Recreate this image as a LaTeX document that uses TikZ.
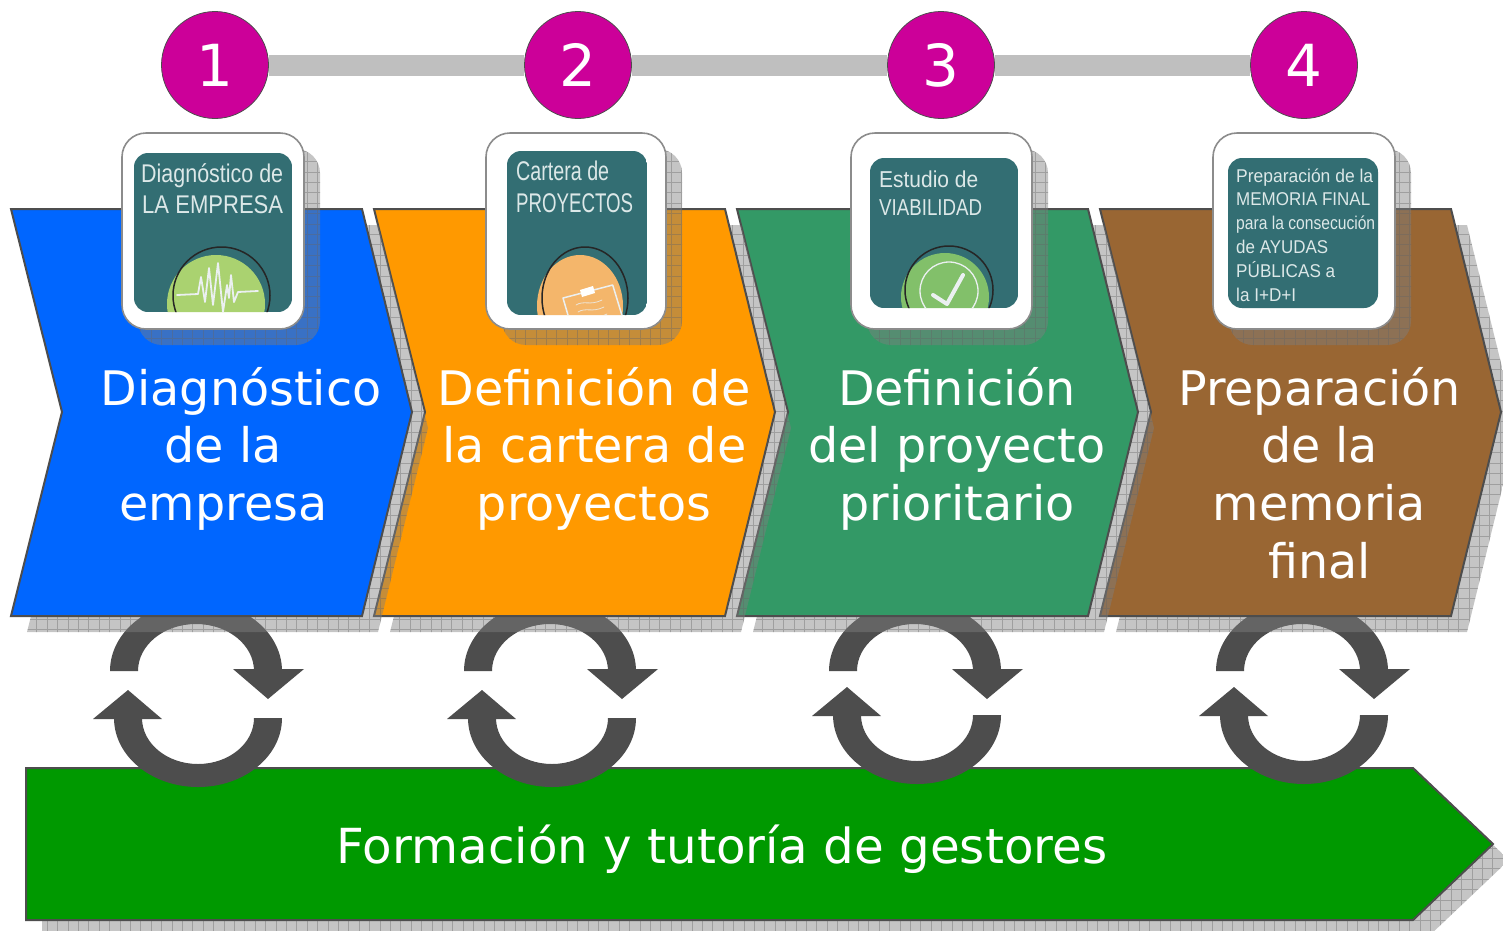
\documentclass[tikz,border=0pt]{standalone}
\usepackage{fontspec}
\usepackage{graphicx}
\setmainfont{DejaVu Sans}
\newfontfamily\arialf{Liberation Sans}
\usetikzlibrary{backgrounds}
\definecolor{cblue}{HTML}{0066FF}
\definecolor{corange}{HTML}{FF9900}
\definecolor{cgreen}{HTML}{339966}
\definecolor{cbrown}{HTML}{996633}
\definecolor{cbar}{HTML}{009900}
\definecolor{cline}{HTML}{4D4D4D}
\definecolor{cmag}{HTML}{CC0099}
\definecolor{cteal}{HTML}{336E73}
\definecolor{cimgtext}{HTML}{DCE8E8}
\definecolor{cpulse}{HTML}{AAD270}
\definecolor{cclip}{HTML}{F4B66B}
\definecolor{ccheck}{HTML}{82C06A}
\tikzset{
  chevron/.style={draw=cline,line width=2pt,line join=miter},
  shadowfill/.style={fill=black!50,fill opacity=.45},
  shadowgrid/.style={draw=black!60,draw opacity=.4,line width=.8pt,step=10.4},
  card/.style={draw=black!45,line width=1.6pt,fill=white,rounded corners=24pt},
  teal/.style={fill=cteal,rounded corners=14pt},
  cycarrow/.style={fill=cline},
  rail/.style={draw=black!25,line width=21pt},
  step circle/.style={circle,draw=cline,line width=.8pt,fill=cmag,text=white,minimum size=107pt,inner sep=0pt,font=\fontsize{58}{58}\selectfont},
  big/.style={anchor=base,text=white,inner sep=0pt,font=\fontsize{47.6}{58}\selectfont},
  imgt/.style={anchor=base west,text=cimgtext,inner sep=0pt},
  ring/.style={draw=black!85,line width=1.5pt},
  whiteline/.style={draw=white!90!cteal,line cap=round,line join=round},
}
% shadow: clip to the path given, offset 16,16, hatched with a grid
\newcommand\shadowof[2][]{%
  \begin{scope}[shift={(16,16)}]
    \begin{scope}
      \clip[#1] #2;
      \fill[shadowfill] (-20,-20) rectangle (1503,930);
      \draw[shadowgrid,y=1pt] (-20.8,-950) grid (1503,20.8);
    \end{scope}
  \end{scope}}
\newcommand\chev[2]{% x offset, colour
  \begin{scope}[shift={(#1,0)}]
    \shadowof{(11,209) -- (362,209) -- (412,412) -- (362,616) -- (11,616) -- (62,412) -- cycle}
    \path[chevron,fill=#2] (11,209) -- (362,209) -- (412,412) -- (362,616) -- (11,616) -- (62,412) -- cycle;
  \end{scope}}
\newcommand\cyc[2]{% x offset, bottom y offset
  \begin{scope}[shift={(#1,0)}]
    \fill[cycarrow] (110,671) arc[start angle=180,end angle=360,x radius=86,y radius=70]
       -- (254,671) arc[start angle=0,end angle=-180,x radius=58,y radius=47] -- cycle;
    \fill[cycarrow] (233,669) -- (304,669) -- (268,699) -- cycle;
    \begin{scope}[shift={(0,#2)}]
      \fill[cycarrow] (114,718) arc[start angle=180,end angle=0,x radius=84,y radius=69]
         -- (254,718) arc[start angle=0,end angle=180,x radius=56,y radius=46] -- cycle;
      \fill[cycarrow] (93,719) -- (162,719) -- (128,690) -- cycle;
    \end{scope}
  \end{scope}}
\newcommand\imgline[6]{% name,x,baseline,width,size,text
  \node[imgt] (#1) at (#2,#3) {\resizebox{#4pt}{\height}{\fontsize{#5}{#5}\selectfont\arialf #6}};}
\begin{document}
\begin{tikzpicture}[x=1pt,y=-1pt]
\useasboundingbox (0,0) rectangle (1503,930);

% bottom bar
\shadowof{(26,768) -- (1413,768) -- (1493,844) -- (1413,920) -- (26,920) -- cycle}
\path[chevron,fill=cbar] (26,768) -- (1413,768) -- (1493,844) -- (1413,920) -- (26,920) -- cycle;
\node[big,font=\fontsize{48.3}{58}\selectfont] (bartext) at (722,863) {Formación y tutoría de gestores};

% cycle arrows
\cyc{0}{0}
\cyc{354}{0}
\cyc{719}{-3}
\cyc{1106}{-3}

% chevrons, right to left
\chev{1089}{cbrown}
\chev{726}{cgreen}
\chev{363}{corange}
\chev{0}{cblue}

% chevron texts
\node[big] (a1) at (241,405) {Diagnóstico};
\node[big] (a2) at (223,462) {de la};
\node[big] (a3) at (223.5,520) {empresa};
\node[big] (b1) at (594,405) {Definición de};
\node[big] (b2) at (594.5,462) {la cartera de};
\node[big] (b3) at (594,520) {proyectos};
\node[big] (c1) at (957,405) {Definición};
\node[big] (c2) at (957,462) {del proyecto};
\node[big] (c3) at (957,520) {prioritario};
\node[big] (d1) at (1319.5,405) {Preparación};
\node[big] (d2) at (1319.5,462) {de la};
\node[big] (d3) at (1319.5,520) {memoria};
\node[big] (d4) at (1319.5,578) {final};

% numbered circles and rail
\node[step circle] (n1) at (215,65) {1};
\node[step circle] (n2) at (578,65) {2};
\node[step circle] (n3) at (941,65) {3};
\node[step circle] (n4) at (1304,65) {4};
\begin{scope}[on background layer]
  \fill[white] (0,0) rectangle (1503,930);
  \draw[rail] (n1) -- (n2) -- (n3) -- (n4);
\end{scope}

% card 1
\shadowof[rounded corners=24pt]{(122,133) rectangle (304,329)}
\path[card] (122,133) rectangle (304,329);
\begin{scope}
  \clip[rounded corners=14pt] (134,153) rectangle (292,312);
  \fill[cteal] (134,153) rectangle (292,312);
  \fill[cpulse] (216,304) circle[radius=49];
  \draw[ring] (221.5,295.5) circle[radius=48.5];
  \draw[whiteline,line width=1.8pt] (177,295) -- (198,294) -- (201,277) -- (205,302) -- (209,268) -- (213,305) -- (218,263) -- (223,312) -- (227,285) -- (229,298) -- (231,275) -- (234,302) -- (238,292) -- (258,291);
\end{scope}
\imgline{i1a}{141}{182}{142}{25.6}{Diagnóstico de}
\imgline{i1b}{142}{213}{141}{25.6}{LA EMPRESA}

% card 2
\shadowof[rounded corners=24pt]{(486,133) rectangle (666,329)}
\path[card] (486,133) rectangle (666,329);
\begin{scope}
  \clip[rounded corners=14pt] (507,151) rectangle (647,315);
  \fill[cteal] (507,151) rectangle (647,315);
  \fill[cclip] (580,306) ellipse[x radius=43,y radius=51];
  \draw[ring] (585,298) ellipse[x radius=43,y radius=51];
  \draw[whiteline,line width=1.5pt] (563,298) -- (612.7,285) -- (624,322) -- (570,322) -- cycle;
  \fill[white] (580,290) -- (593,286) -- (595,293) -- (582,297) -- cycle;
  \draw[whiteline,line width=.8pt,opacity=.8] (576,305) .. controls (584,300) and (590,306) .. (602,300);
  \draw[whiteline,line width=.8pt,opacity=.8] (578,312) .. controls (586,307) and (592,313) .. (604,307);
  \draw[whiteline,line width=.8pt,opacity=.8] (581,319) .. controls (589,314) and (595,320) .. (607,314);
\end{scope}
\imgline{i2a}{516}{180}{93}{27}{Cartera de}
\imgline{i2b}{516}{212}{117}{27}{PROYECTOS}

% card 3
\shadowof[rounded corners=24pt]{(851,133) rectangle (1032,329)}
\path[card] (851,133) rectangle (1032,329);
\begin{scope}
  \clip[rounded corners=14pt] (870,158) rectangle (1018,308);
  \fill[cteal] (870,158) rectangle (1018,308);
  \fill[ccheck] (945,297) circle[radius=44];
  \draw[ring] (949,290) circle[radius=44];
  \draw[whiteline,line width=1.3pt] (949,291) circle[radius=29];
  \draw[whiteline,line width=4pt] (933,295) -- (947,304) -- (963,275);
\end{scope}
\imgline{i3a}{879}{187}{99}{23}{Estudio de}
\imgline{i3b}{879}{215}{103}{23}{VIABILIDAD}

% card 4
\shadowof[rounded corners=24pt]{(1213,133) rectangle (1395,329)}
\path[card] (1213,133) rectangle (1395,329);
\path[teal] (1228,158) rectangle (1378,308);
\imgline{i4a}{1236}{182}{137}{18.5}{Preparación de la}
\imgline{i4b}{1236}{205}{134}{18.5}{MEMORIA FINAL}
\imgline{i4c}{1236}{229}{139}{18.5}{para la consecución}
\imgline{i4d}{1236}{253}{92}{18.5}{de AYUDAS}
\imgline{i4e}{1236}{277}{99}{18.5}{PÚBLICAS a}
\imgline{i4f}{1236}{301}{60}{18.5}{la I+D+I}
\end{tikzpicture}
\end{document}
